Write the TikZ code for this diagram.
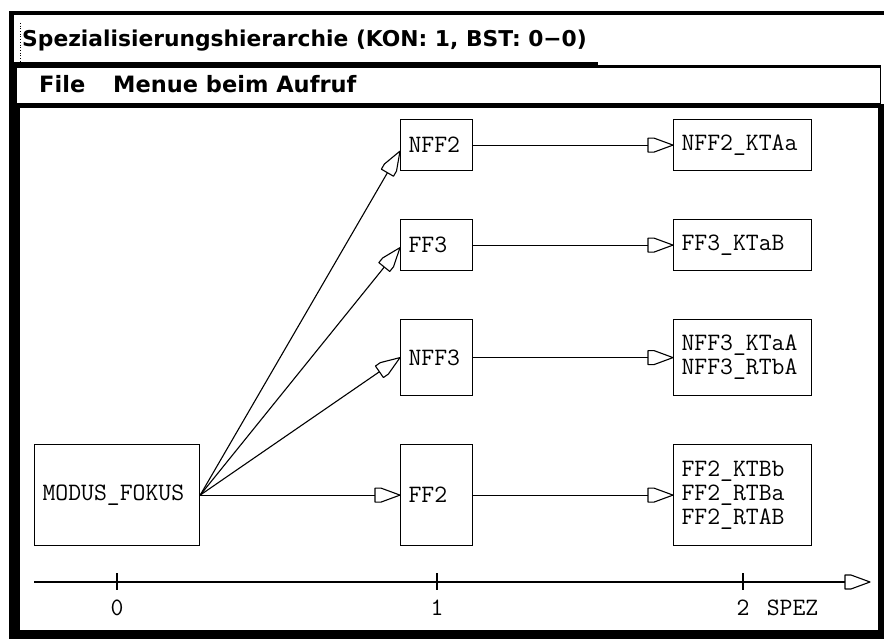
\documentclass[tikz,border=0pt]{standalone}
\usepackage{fontspec}
\newfontfamily\uifont{DejaVu Sans}
\newcommand\monofnt{\fontsize{25}{24}\selectfont\ttfamily}
\pgfdeclarearrow{
  name = XTri,
  setup code = {
    \pgfarrowssettipend{0pt}
    \pgfarrowssetbackend{-25pt}
    \pgfarrowssetlineend{-25pt}
    \pgfarrowshullpoint{0pt}{0pt}
    \pgfarrowshullpoint{-25pt}{7pt}
    \pgfarrowshullpoint{-25pt}{-7pt}
  },
  drawing code = {
    \pgfsetroundjoin
    \pgfpathmoveto{\pgfqpoint{0pt}{0pt}}
    \pgfpathlineto{\pgfqpoint{-19pt}{7pt}}
    \pgfpathlineto{\pgfqpoint{-25pt}{7pt}}
    \pgfpathlineto{\pgfqpoint{-25pt}{-7pt}}
    \pgfpathlineto{\pgfqpoint{-19pt}{-7pt}}
    \pgfpathclose
    \pgfusepathqstroke
  }
}
\tikzset{
  box/.style={draw, line width=1.2pt, rectangle, anchor=north west, inner xsep=8pt, inner ysep=0pt, align=left, font=\monofnt},
  conn/.style={line width=1.1pt, -XTri},
  tick/.style={line width=1.1pt},
  lbl/.style={inner sep=0pt, font=\monofnt},
  uitext/.style={inner sep=0pt, anchor=base west},
}
\begin{document}
\begin{tikzpicture}[x=1pt,y=-1pt]
\useasboundingbox[fill=white] (0,0) rectangle (884,639);
% window frame
\fill[black] (9,11) rectangle (884,639);
\fill[white] (14,15) rectangle (884,62);
\fill[white] (598,62) rectangle (884,65);
\fill[white] (16.5,68) rectangle (880,103);
\fill[white] (881,65) rectangle (884,104);
\fill[white] (20,108) rectangle (878,630);
\draw[dotted, line width=0.7pt] (20.7,23) -- (20.7,61);
% title and menu
\node[uitext, font=\fontsize{21.8}{24}\selectfont\uifont\bfseries] (title) at (22,46.5) {Spezialisierungshierarchie (KON: 1, BST: 0−0)};
\node[uitext, font=\fontsize{22.5}{24}\selectfont\uifont\bfseries] (mfile) at (39,93) {File};
\node[uitext, font=\fontsize{22.5}{24}\selectfont\uifont\bfseries] (mmenu) at (113,93) {Menue beim Aufruf};
% boxes
\node[box, minimum width=165pt, minimum height=101pt, text width=149pt] (modus) at (34,444) {MODUS\_FOKUS};
\node[box, minimum width=72pt, minimum height=51pt, text width=56pt] (nff2) at (400,119) {NFF2};
\node[box, minimum width=72pt, minimum height=51pt, text width=56pt] (ff3) at (400,219) {FF3};
\node[box, minimum width=72pt, minimum height=76pt, text width=56pt] (nff3) at (400,319) {NFF3};
\node[box, minimum width=72pt, minimum height=101pt, text width=56pt] (ff2) at (400,444) {FF2};
\node[box, minimum width=138pt, minimum height=51pt, text width=122pt] (nff2k) at (673,119) {NFF2\_KTAa};
\node[box, minimum width=138pt, minimum height=51pt, text width=122pt] (ff3k) at (673,219) {FF3\_KTaB};
\node[box, minimum width=138pt, minimum height=76pt, text width=122pt] (nff3k) at (673,319) {NFF3\_KTaA\\NFF3\_RTbA};
\node[box, minimum width=138pt, minimum height=101pt, text width=122pt] (ff2k) at (673,444) {FF2\_KTBb\\FF2\_RTBa\\FF2\_RTAB};
% connectors
\draw[conn] (modus.east) -- ([yshift=-6pt]nff2.west);
\draw[conn] (modus.east) -- ([yshift=-2.5pt]ff3.west);
\draw[conn] (modus.east) -- (nff3.west);
\draw[conn] (modus.east) -- (ff2.west);
\draw[conn] (nff2.east) -- (nff2k.west);
\draw[conn] (ff3.east) -- (ff3k.west);
\draw[conn] (nff3.east) -- (nff3k.west);
\draw[conn] (ff2.east) -- (ff2k.west);
% axis
\coordinate (axs) at (34,582);
\coordinate (axe) at (870,582);
\draw[conn] (axs) -- (axe);
\coordinate (t0a) at (117,573); \coordinate (t0b) at (117,590);
\coordinate (t1a) at (437,573); \coordinate (t1b) at (437,590);
\coordinate (t2a) at (743,573); \coordinate (t2b) at (743,590);
\draw[tick] (t0a) -- (t0b);
\draw[tick] (t1a) -- (t1b);
\draw[tick] (t2a) -- (t2b);
\node[lbl] (l0) at (117,607.5) {0};
\node[lbl] (l1) at (437,607.5) {1};
\node[lbl] (l2) at (743,607.5) {2};
\node[lbl] (lspez) at (792.5,607.5) {SPEZ};
\end{tikzpicture}
\end{document}
